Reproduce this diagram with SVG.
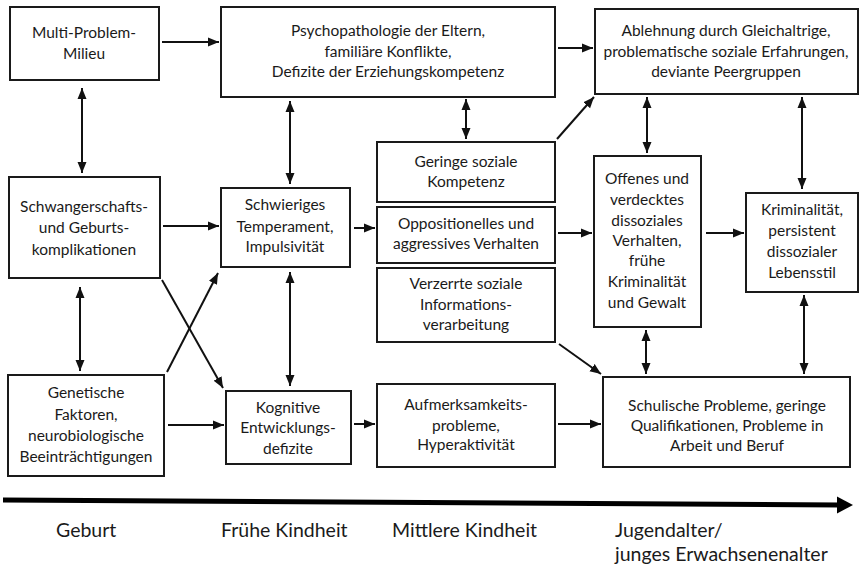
<svg xmlns="http://www.w3.org/2000/svg" width="860" height="568" viewBox="0 0 860 568">
<defs>
<style>
.box{fill:#fff;stroke:#1a1a1a;stroke-width:2}
.t{font-family:Lato,"Open Sans","Liberation Sans",sans-serif;font-size:15.5px;fill:#1a1a1a;text-anchor:middle}
.tl{font-family:Lato,"Open Sans","Liberation Sans",sans-serif;font-size:19.5px;fill:#1a1a1a}
.c{stroke:#111;stroke-width:2;fill:none}
</style>
<marker id="ah" markerUnits="userSpaceOnUse" markerWidth="11" markerHeight="10" refX="11" refY="5" orient="auto-start-reverse">
<path d="M0,0.5 L11,5 L0,9.5 z" fill="#111"/>
</marker>
</defs>
<rect width="860" height="568" fill="#fff"/>

<g id="multi"><rect class="box" x="10" y="7" width="149" height="73"/>
<text class="t" x="84" y="38">Multi-Problem-</text><text class="t" x="84" y="59">Milieu</text></g>

<g id="psych"><rect class="box" x="221" y="7" width="334" height="90"/>
<text class="t" x="388" y="36">Psychopathologie der Eltern,</text>
<text class="t" x="388" y="57">familiäre Konflikte,</text>
<text class="t" x="388" y="77">Defizite der Erziehungskompetenz</text></g>

<g id="ablehnung"><rect class="box" x="595" y="9" width="263" height="85"/>
<text class="t" x="726" y="36">Ablehnung durch Gleichaltrige,</text>
<text class="t" x="726" y="57">problematische soziale Erfahrungen,</text>
<text class="t" x="726" y="77">deviante Peergruppen</text></g>

<g id="schwanger"><rect class="box" x="9" y="177" width="151" height="101"/>
<text class="t" x="84" y="212">Schwangerschafts-</text>
<text class="t" x="84" y="233">und Geburts-</text>
<text class="t" x="84" y="255">komplikationen</text></g>

<g id="schwierig"><rect class="box" x="221" y="188" width="129" height="79"/>
<text class="t" x="285" y="210">Schwieriges</text>
<text class="t" x="285" y="232">Temperament,</text>
<text class="t" x="285" y="252">Impulsivität</text></g>

<g id="geringe"><rect class="box" x="377" y="142" width="178" height="60"/>
<text class="t" x="466" y="167">Geringe soziale</text>
<text class="t" x="466" y="187">Kompetenz</text></g>

<g id="opposit"><rect class="box" x="377" y="207" width="178" height="56"/>
<text class="t" x="466" y="229">Oppositionelles und</text>
<text class="t" x="466" y="249">aggressives Verhalten</text></g>

<g id="verzerrte"><rect class="box" x="377" y="268" width="178" height="74"/>
<text class="t" x="466" y="289">Verzerrte soziale</text>
<text class="t" x="466" y="310">Informations-</text>
<text class="t" x="466" y="330">verarbeitung</text></g>

<g id="aufmerk"><rect class="box" x="377" y="384" width="178" height="83"/>
<text class="t" x="466" y="410">Aufmerksamkeits-</text>
<text class="t" x="466" y="431">probleme,</text>
<text class="t" x="466" y="450">Hyperaktivität</text></g>

<g id="kognitive"><rect class="box" x="226" y="391" width="125" height="73"/>
<text class="t" x="288" y="413">Kognitive</text>
<text class="t" x="288" y="433">Entwicklungs-</text>
<text class="t" x="288" y="454">defizite</text></g>

<g id="genetische"><rect class="box" x="8" y="375" width="156" height="101"/>
<text class="t" x="86" y="398">Genetische</text>
<text class="t" x="86" y="420">Faktoren,</text>
<text class="t" x="86" y="441">neurobiologische</text>
<text class="t" x="86" y="462">Beeinträchtigungen</text></g>

<g id="offenes"><rect class="box" x="594" y="156" width="107" height="171"/>
<text class="t" x="647" y="184">Offenes und</text>
<text class="t" x="647" y="205">verdecktes</text>
<text class="t" x="647" y="226">dissoziales</text>
<text class="t" x="647" y="246">Verhalten,</text>
<text class="t" x="647" y="266">frühe</text>
<text class="t" x="647" y="287">Kriminalität</text>
<text class="t" x="647" y="308">und Gewalt</text></g>

<g id="kriminal"><rect class="box" x="746" y="193" width="112" height="99"/>
<text class="t" x="802" y="215">Kriminalität,</text>
<text class="t" x="802" y="236">persistent</text>
<text class="t" x="802" y="257">dissozialer</text>
<text class="t" x="802" y="278">Lebensstil</text></g>

<g id="schulische"><rect class="box" x="603" y="377" width="247" height="90"/>
<text class="t" x="727" y="411">Schulische Probleme, geringe</text>
<text class="t" x="727" y="431">Qualifikationen, Probleme in</text>
<text class="t" x="727" y="451">Arbeit und Beruf</text></g>

<g id="connectors">
<line class="c" x1="162" y1="42" x2="219" y2="42" marker-end="url(#ah)"/>
<line class="c" x1="558" y1="48" x2="593" y2="48" marker-end="url(#ah)"/>
<line class="c" x1="82" y1="88" x2="82" y2="173" marker-start="url(#ah)" marker-end="url(#ah)"/>
<line class="c" x1="290" y1="101" x2="290" y2="184" marker-start="url(#ah)" marker-end="url(#ah)"/>
<line class="c" x1="466" y1="99" x2="466" y2="139" marker-start="url(#ah)" marker-end="url(#ah)"/>
<line class="c" x1="163" y1="226" x2="219" y2="226" marker-end="url(#ah)"/>
<line class="c" x1="80" y1="287" x2="80" y2="371" marker-start="url(#ah)" marker-end="url(#ah)"/>
<line class="c" x1="290" y1="272" x2="290" y2="386" marker-start="url(#ah)" marker-end="url(#ah)"/>
<line class="c" x1="162" y1="280" x2="223" y2="388" marker-end="url(#ah)"/>
<line class="c" x1="167" y1="372" x2="218" y2="273" marker-end="url(#ah)"/>
<line class="c" x1="168" y1="425" x2="224" y2="425" marker-end="url(#ah)"/>
<line class="c" x1="354" y1="424" x2="375" y2="424" marker-end="url(#ah)"/>
<line class="c" x1="354" y1="228" x2="375" y2="228" marker-end="url(#ah)"/>
<line class="c" x1="557" y1="139" x2="594" y2="97" marker-end="url(#ah)"/>
<line class="c" x1="558" y1="233" x2="592" y2="233" marker-end="url(#ah)"/>
<line class="c" x1="559" y1="344" x2="601" y2="374" marker-end="url(#ah)"/>
<line class="c" x1="558" y1="424" x2="601" y2="424" marker-end="url(#ah)"/>
<line class="c" x1="647" y1="97" x2="647" y2="153" marker-start="url(#ah)" marker-end="url(#ah)"/>
<line class="c" x1="802" y1="97" x2="802" y2="189" marker-start="url(#ah)" marker-end="url(#ah)"/>
<line class="c" x1="706" y1="233" x2="744" y2="233" marker-end="url(#ah)"/>
<line class="c" x1="646" y1="330" x2="646" y2="374" marker-start="url(#ah)" marker-end="url(#ah)"/>
<line class="c" x1="804" y1="295" x2="804" y2="374" marker-start="url(#ah)" marker-end="url(#ah)"/>
<line x1="3" y1="500" x2="840" y2="505" stroke="#000" stroke-width="5"/>
<polygon points="837,496.5 853,505 837,513.5" fill="#000"/>
</g>

<g id="timeline-labels">
<text class="tl" x="56" y="537">Geburt</text>
<text class="tl" x="221" y="537">Frühe Kindheit</text>
<text class="tl" x="392" y="537">Mittlere Kindheit</text>
<text class="tl" x="615" y="537">Jugendalter/</text>
<text class="tl" x="615" y="561">junges Erwachsenenalter</text>
</g>
</svg>
